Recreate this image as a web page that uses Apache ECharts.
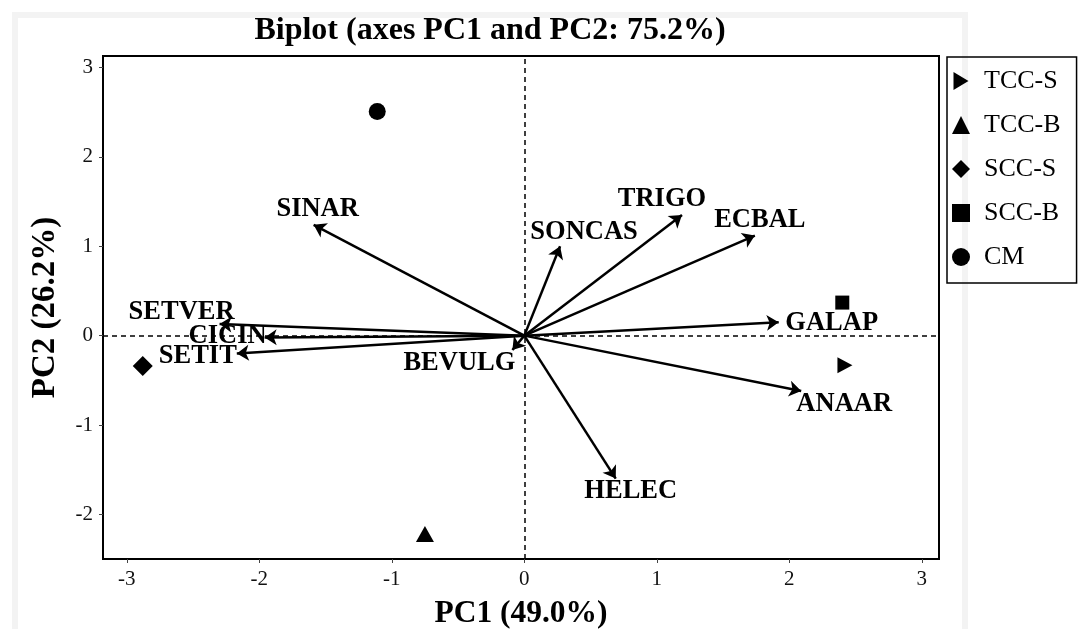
<!DOCTYPE html>
<html><head><meta charset="utf-8">
<script src="https://cdn.jsdelivr.net/npm/echarts@6/dist/echarts.min.js"></script>
<style>html,body{margin:0;padding:0;background:#fff}#c{width:1081px;height:629px}</style>
</head><body><div id="c"></div>
<script>
const groups = ['TCC-S','TCC-B','SCC-S','SCC-B','CM'];
const groupPC1 = [2.42,-0.75,-2.88,2.40,-1.11];
const groupPC2 = [-0.33,-2.22,-0.34,0.37,2.51];
const variables = ['SINAR','SONCAS','TRIGO','ECBAL','GALAP','ANAAR','HELEC','BEVULG','SETVER','CICIN','SETIT'];
const varPC1 = [-1.59,0.27,1.19,1.74,1.92,2.09,0.69,-0.09,-2.30,-1.96,-2.17];
const varPC2 = [1.24,1.00,1.35,1.12,0.15,-0.62,-1.60,-0.16,0.13,-0.02,-0.20];
const xTicks = [-3,-2,-1,0,1,2,3];
const yTicks = [-2,-1,0,1,2,3];

// styles (not data)
const labelOffsets = [[4,-16],[24,-14],[-20,-16],[5,-15],[53,1],[43,13],[15,13],[-53,13],[-38,-12],[-37,-1],[-39,3]];
const symbols = ['path://M0,0L10,6L0,12Z','triangle','diamond','rect','circle'];
const symbolSizes = [[15,16],[18,16],[20,20],[14,14],[17,17]];
const serif = 'Liberation Serif';

const chart = echarts.init(document.getElementById('c'));
const series = groups.map((g,i)=>({
  name:g, type:'scatter', symbol:symbols[i], symbolSize:symbolSizes[i],
  itemStyle:{color:'#000',opacity:1}, z:5,
  data:[[groupPC1[i],groupPC2[i]]]
}));
series.push({
  type:'lines', coordinateSystem:'cartesian2d', z:3, silent:true,
  symbol:['none','arrow'], symbolSize:[0,12],
  lineStyle:{color:'#000',width:2.5,opacity:1},
  data: variables.map((v,i)=>({coords:[[0,0],[varPC1[i],varPC2[i]]]}))
});
series.push({
  type:'scatter', symbolSize:1, z:6, silent:true,
  itemStyle:{color:'#000',opacity:0},
  label:{show:true,position:'inside',formatter:'{b}',fontFamily:serif,fontWeight:'bold',fontSize:26.5,color:'#000',textBorderWidth:0,opacity:1},
  data: variables.map((v,i)=>({name:v,value:[varPC1[i],varPC2[i]],label:{offset:labelOffsets[i]}})),
  markLine:{silent:true,symbol:'none',label:{show:false},
    lineStyle:{color:'#000',type:[5,4],width:1.5,opacity:1},
    data:[{xAxis:0},{yAxis:0}]}
});

chart.setOption({
  animation:false,
  backgroundColor:'#fff',
  graphic:[{type:'rect',left:12,top:12,shape:{width:950,height:630},style:{fill:'none',stroke:'#f3f3f3',lineWidth:6},z:-10}],
  title:{text:'Biplot (axes PC1 and PC2: 75.2%)',left:485,top:10,textAlign:'center',
    textStyle:{fontFamily:serif,fontWeight:'bold',fontSize:32,color:'#000'}},
  legend:{orient:'vertical',left:947,top:57,itemWidth:18,itemHeight:18,itemGap:16,
    borderColor:'#000',borderWidth:1.5,padding:[10,16,12,5],
    data:groups.map((g,i)=>({name:g,icon:symbols[i]})),
    itemStyle:{color:'#000',opacity:1},
    textStyle:{fontFamily:serif,fontSize:26,lineHeight:28,color:'#000',padding:[0,0,0,9]}},
  grid:{left:103,right:142,top:56,bottom:70,outerBoundsMode:'none',show:true,borderColor:'#000',borderWidth:2},
  xAxis:{type:'value',min:-3.18,max:3.13,
    name:'PC1 (49.0%)',nameLocation:'middle',nameGap:39,
    nameTextStyle:{fontFamily:serif,fontWeight:'bold',fontSize:31.5,color:'#000'},
    axisLine:{show:true,onZero:false,lineStyle:{color:'#000',width:2}},
    axisTick:{show:true,length:4,customValues:xTicks,lineStyle:{color:'#444'}},
    axisLabel:{customValues:xTicks,margin:10,fontFamily:serif,fontSize:21,color:'#111'},
    splitLine:{show:false}},
  yAxis:{type:'value',min:-2.5,max:3.13,
    name:'PC2 (26.2%)',nameLocation:'middle',nameGap:41,
    nameTextStyle:{fontFamily:serif,fontWeight:'bold',fontSize:33,color:'#000'},
    axisLine:{show:true,onZero:false,lineStyle:{color:'#000',width:2}},
    axisTick:{show:true,length:4,customValues:yTicks,lineStyle:{color:'#444'}},
    axisLabel:{customValues:yTicks,margin:10,fontFamily:serif,fontSize:21,color:'#111'},
    splitLine:{show:false}},
  series:series
});
</script></body></html>
